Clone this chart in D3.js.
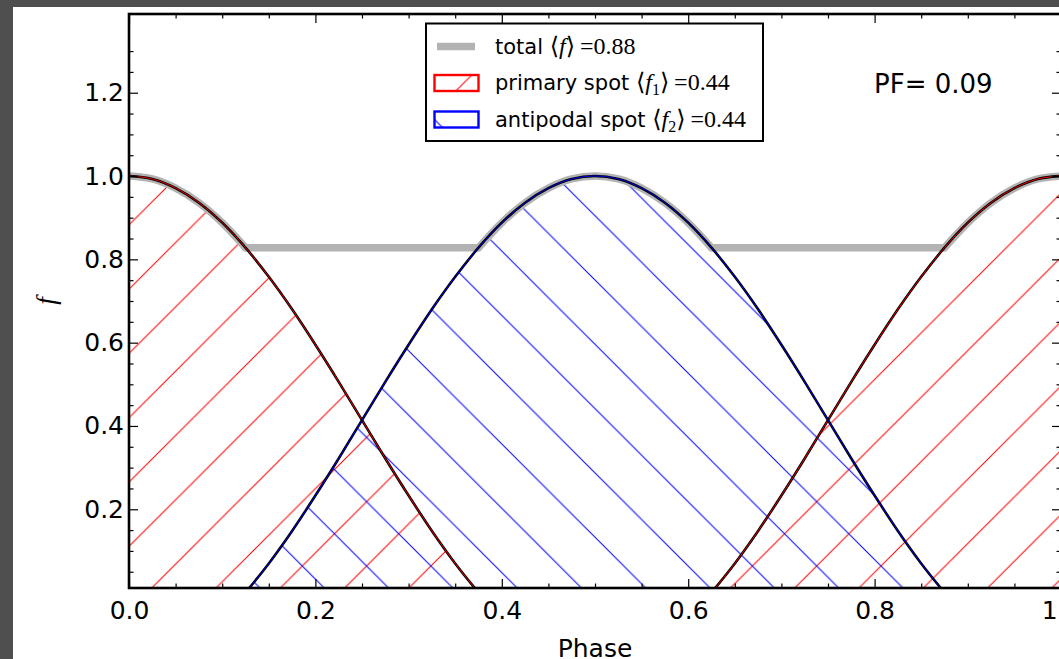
<!DOCTYPE html>
<html>
<head>
<meta charset="utf-8">
<script src="https://cdn.jsdelivr.net/npm/d3@7"></script>
<style>
  html, body { margin: 0; padding: 0; background: #4f4f4f; }
  svg { display: block; }
</style>
</head>
<body>
<script>
// ---------------- DATA ----------------
const phase = [0.000,0.025,0.050,0.075,0.100,0.125,0.150,0.175,0.200,0.225,
               0.250,0.275,0.300,0.325,0.350,0.375,0.400,0.425,0.450,0.475,
               0.500,0.525,0.550,0.575,0.600,0.625,0.650,0.675,0.700,0.725,
               0.750,0.775,0.800,0.825,0.850,0.875,0.900,0.925,0.950,0.975,1.000];

// primary spot flux (null = spot hidden)
const primary = [1.000,0.993,0.971,0.936,0.888,0.828,0.758,0.680,0.595,0.506,
                 0.414,0.322,0.233,0.148,0.070,0.000,null,null,null,null,
                 null,null,null,null,null,0.000,0.070,0.148,0.233,0.322,
                 0.414,0.506,0.595,0.680,0.758,0.828,0.888,0.936,0.971,0.993,1.000];

// antipodal spot flux
const antipodal = [null,null,null,null,null,0.000,0.070,0.148,0.233,0.322,
                   0.414,0.506,0.595,0.680,0.758,0.828,0.888,0.936,0.971,0.993,
                   1.000,0.993,0.971,0.936,0.888,0.828,0.758,0.680,0.595,0.506,
                   0.414,0.322,0.233,0.148,0.070,0.000,null,null,null,null,null];

// total flux
const total = [1.000,0.993,0.971,0.936,0.888,0.828,0.828,0.828,0.828,0.828,
               0.828,0.828,0.828,0.828,0.828,0.828,0.888,0.936,0.971,0.993,
               1.000,0.993,0.971,0.936,0.888,0.828,0.828,0.828,0.828,0.828,
               0.828,0.828,0.828,0.828,0.828,0.828,0.888,0.936,0.971,0.993,1.000];
// index ranges of the smooth pieces of the total curve (breaks where a spot appears/disappears)
const totalPieces = [[0,5],[5,15],[15,25],[25,35],[35,40]];

const xMajor = [0.0,0.2,0.4,0.6,0.8,1.0];
const xTickLabels = ["0.0","0.2","0.4","0.6","0.8","1.0"];
const xMinor = [0.05,0.1,0.15,0.25,0.3,0.35,0.45,0.5,0.55,0.65,0.7,0.75,0.85,0.9,0.95];
const yMajor = [0.2,0.4,0.6,0.8,1.0,1.2];
const yTickLabels = ["0.2","0.4","0.6","0.8","1.0","1.2"];
const yMinor = [0.05,0.1,0.15,0.25,0.3,0.35,0.45,0.5,0.55,0.65,0.7,0.75,0.85,0.9,0.95,1.05,1.1,1.15,1.25,1.3];

const legendLabels = [
  {name: "total ", sub: null, value: "0.88"},
  {name: "primary spot ", sub: "1", value: "0.44"},
  {name: "antipodal spot ", sub: "2", value: "0.44"}
];
const pfLabel = "PF= 0.09";

// ---------------- LAYOUT ----------------
const W = 1059, H = 659;
const L = 129, R = 1061, T = 14, B = 588;
const RED = "#ff0000", BLUE = "#0000ff", GRAY = "#b3b3b3";
const SANS = "'DejaVu Sans', sans-serif";
const SERIF = "'Liberation Serif', 'DejaVu Serif', serif";

const svg = d3.select("body").append("svg").attr("width", W).attr("height", H);
svg.append("rect").attr("width", W).attr("height", H).attr("fill", "#4f4f4f");
svg.append("rect").attr("x", 13).attr("y", 7).attr("width", W - 13).attr("height", H - 7).attr("fill", "#ffffff");

const x = d3.scaleLinear().domain([0, 1]).range([L, R]);
const y = d3.scaleLinear().domain([0.011, 1.389]).range([B, T]);

const defs = svg.append("defs");
defs.append("clipPath").attr("id", "plotclip")
  .append("rect").attr("x", L).attr("y", T).attr("width", R - L).attr("height", B - T);

const S = 64.3;
const pr = defs.append("pattern").attr("id", "hatchRed").attr("patternUnits", "userSpaceOnUse")
  .attr("x", 32.4).attr("y", 0).attr("width", S).attr("height", S);
pr.append("path")
  .attr("d", `M0,${S} L${S},0 M-2,2 L2,-2 M${S-2},${S+2} L${S+2},${S-2}`)
  .attr("stroke", RED).attr("stroke-width", 1).attr("fill", "none");
const pb = defs.append("pattern").attr("id", "hatchBlue").attr("patternUnits", "userSpaceOnUse")
  .attr("x", 57.8).attr("y", 0).attr("width", S).attr("height", S);
pb.append("path")
  .attr("d", `M0,0 L${S},${S} M${S-2},-2 L${S+2},2 M-2,${S-2} L2,${S+2}`)
  .attr("stroke", BLUE).attr("stroke-width", 1).attr("fill", "none");

const plot = svg.append("g").attr("clip-path", "url(#plotclip)");

function areaOf(vals) {
  return d3.area()
    .defined((d, i) => vals[i] !== null)
    .x((d, i) => x(phase[i]))
    .y0(y(0))
    .y1((d, i) => y(vals[i]))
    .curve(d3.curveMonotoneX);
}
function lineOf(vals) {
  return d3.line()
    .defined((d, i) => vals[i] !== null)
    .x((d, i) => x(phase[i]))
    .y((d, i) => y(vals[i]))
    .curve(d3.curveMonotoneX);
}

plot.append("path").datum(phase).attr("d", areaOf(primary)).attr("fill", "url(#hatchRed)");
plot.append("path").datum(phase).attr("d", areaOf(antipodal)).attr("fill", "url(#hatchBlue)");

const totalLine = d3.line().x(i => x(phase[i])).y(i => y(total[i])).curve(d3.curveMonotoneX);
totalPieces.forEach(([a, b]) => {
  plot.append("path").datum(d3.range(a, b + 1)).attr("d", totalLine)
    .attr("fill", "none").attr("stroke", GRAY).attr("stroke-width", 7.5).attr("stroke-linecap", "round");
});

[[primary, RED], [antipodal, BLUE]].forEach(([vals, col]) => {
  plot.append("path").datum(phase).attr("d", lineOf(vals))
    .attr("fill", "none").attr("stroke", "#000").attr("stroke-width", 2.6);
  plot.append("path").datum(phase).attr("d", lineOf(vals))
    .attr("fill", "none").attr("stroke", col).attr("stroke-width", 0.9);
});

// ---------------- AXES ----------------
function styleAxis(g) {
  g.select(".domain").remove();
  g.selectAll(".tick line").attr("stroke", "#000").attr("stroke-width", 1.2);
  g.selectAll(".tick text").attr("fill", "#000").style("font-family", SANS).style("font-size", "25px");
}
const ax = svg.append("g");
ax.append("g").attr("transform", `translate(0,${B})`)
  .call(d3.axisBottom(x).tickValues(xMajor).tickFormat((d, i) => xTickLabels[i]).tickSize(-9).tickPadding(13))
  .call(styleAxis);
ax.append("g").attr("transform", `translate(0,${B})`)
  .call(d3.axisBottom(x).tickValues(xMinor).tickFormat("").tickSize(-4.5)).call(styleAxis);
ax.append("g").attr("transform", `translate(0,${T})`)
  .call(d3.axisTop(x).tickValues(xMajor).tickFormat("").tickSize(-9)).call(styleAxis);
ax.append("g").attr("transform", `translate(0,${T})`)
  .call(d3.axisTop(x).tickValues(xMinor).tickFormat("").tickSize(-4.5)).call(styleAxis);
ax.append("g").attr("transform", `translate(${L},0)`)
  .call(d3.axisLeft(y).tickValues(yMajor).tickFormat((d, i) => yTickLabels[i]).tickSize(-9).tickPadding(5))
  .call(styleAxis);
ax.append("g").attr("transform", `translate(${L},0)`)
  .call(d3.axisLeft(y).tickValues(yMinor).tickFormat("").tickSize(-4.5)).call(styleAxis);
ax.append("g").attr("transform", `translate(${R},0)`)
  .call(d3.axisRight(y).tickValues(yMajor).tickFormat("").tickSize(-9)).call(styleAxis);
ax.append("g").attr("transform", `translate(${R},0)`)
  .call(d3.axisRight(y).tickValues(yMinor).tickFormat("").tickSize(-4.5)).call(styleAxis);

svg.append("rect").attr("x", L).attr("y", T).attr("width", R - L).attr("height", B - T)
  .attr("fill", "none").attr("stroke", "#000").attr("stroke-width", 2.6);

// axis labels
svg.append("text").attr("x", (L + R) / 2).attr("y", 657).attr("text-anchor", "middle")
  .style("font-family", SANS).style("font-size", "25px").attr("fill", "#000").text("Phase");
svg.append("text").attr("transform", `translate(55,${(T + B) / 2}) rotate(-90)`).attr("text-anchor", "middle")
  .style("font-family", SERIF).style("font-style", "italic").style("font-size", "27px").attr("fill", "#000").text("f");

// PF annotation
svg.append("text").attr("x", 874).attr("y", 92.5)
  .style("font-family", SANS).style("font-size", "26px").attr("fill", "#000").text(pfLabel);

// ---------------- LEGEND ----------------
const lg = svg.append("g");
lg.append("rect").attr("x", 426).attr("y", 23.5).attr("width", 337).attr("height", 117.5)
  .attr("fill", "#fff").attr("stroke", "#000").attr("stroke-width", 2);
const rowY = [46.5, 83, 119.5];
lg.append("line").attr("x1", 437).attr("x2", 475).attr("y1", rowY[0]).attr("y2", rowY[0])
  .attr("stroke", GRAY).attr("stroke-width", 7.5);
lg.append("rect").attr("x", 434.5).attr("y", rowY[1] - 8).attr("width", 44).attr("height", 16)
  .attr("fill", "url(#hatchRed)").attr("stroke", RED).attr("stroke-width", 2.4);
lg.append("rect").attr("x", 434.5).attr("y", rowY[2] - 8).attr("width", 44).attr("height", 16)
  .attr("fill", "url(#hatchBlue)").attr("stroke", BLUE).attr("stroke-width", 2.4);

legendLabels.forEach((d, i) => {
  const t = lg.append("text").attr("x", 495).attr("y", rowY[i] + 7).attr("fill", "#000");
  t.append("tspan").style("font-family", SANS).style("font-size", "21px").text(d.name);
  t.append("tspan").style("font-family", SERIF).style("font-size", "24px").text("\u27E8");
  t.append("tspan").style("font-family", SERIF).style("font-size", "24px").style("font-style", "italic").text("f");
  if (d.sub) {
    t.append("tspan").style("font-family", SERIF).style("font-size", "16px").attr("dy", 5).text(d.sub);
    t.append("tspan").style("font-family", SERIF).style("font-size", "24px").attr("dy", -5).text("\u27E9\u2009=" + d.value);
  } else {
    t.append("tspan").style("font-family", SERIF).style("font-size", "24px").text("\u27E9\u2009=" + d.value);
  }
});
</script>
</body>
</html>
